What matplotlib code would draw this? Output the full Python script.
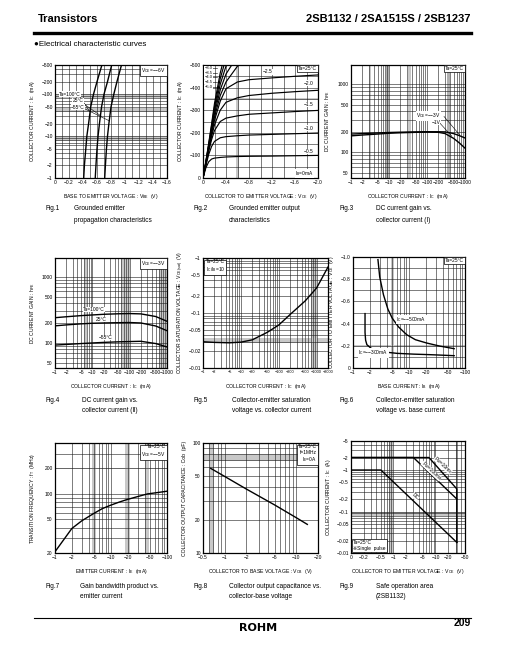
import numpy as np
import matplotlib
matplotlib.use("Agg")
import matplotlib.pyplot as plt
from matplotlib.ticker import FixedLocator, LogLocator, MultipleLocator, NullFormatter

W, H = 505, 649

plt.rcParams["font.family"] = ["Liberation Sans", "DejaVu Sans", "Noto Sans CJK JP"]
plt.rcParams["mathtext.fontset"] = "custom"
plt.rcParams["mathtext.rm"] = "Liberation Sans"
plt.rcParams["mathtext.it"] = "Liberation Sans"
plt.rcParams["axes.linewidth"] = 0.8

INK = "black"
GRID = "#1a1a1a"
BAND = "#c8c8c8"
MINUS = "\u2212"

# ---------------- data (magnitudes; the datasheet prints them negative) ----
# Fig.1  grounded emitter propagation: VBE (V) at given Ic (mA)
F1_IC = [1, 2, 5, 10, 20, 50, 100, 200, 500]
F1_VBE_100C = [0.41, 0.42, 0.44, 0.455, 0.48, 0.51, 0.55, 0.60, 0.67]
F1_VBE_25C = [0.575, 0.585, 0.60, 0.615, 0.635, 0.665, 0.70, 0.75, 0.81]
F1_VBE_M55C = [0.71, 0.72, 0.735, 0.75, 0.77, 0.80, 0.84, 0.885, 0.95]

# Fig.2  output characteristics: Ic (mA) vs VCE (V) for each IB (mA)
F2_VCE = [0, 0.05, 0.1, 0.15, 0.2, 0.3, 0.4, 0.6, 0.8, 1.2, 1.6, 2.0]
F2_IC_IB05 = [0, 45, 72, 84, 88, 91, 93, 95, 96, 97, 98.5, 100]
F2_IC_IB10 = [0, 55, 105, 140, 162, 178, 183, 187, 190, 193, 196, 199]
F2_IC_IB15 = [0, 60, 120, 170, 210, 250, 265, 275, 282, 288, 294, 299]
F2_IC_IB20 = [0, 62, 125, 185, 235, 300, 335, 355, 365, 375, 382, 388]
F2_IC_IB25 = [0, 64, 130, 195, 255, 340, 395, 425, 435, 443, 450, 456]
F2_IC_IB30 = [0, 66, 135, 205, 270, 365, 425, 495, 530, 560, 580, 600]
F2_IC_IB35 = [0, 68, 140, 215, 285, 390, 460, 540, 580, 610, 630, 650]
F2_IC_IB40 = [0, 70, 145, 222, 300, 415, 495, 585, 630, 660, 680, 700]
F2_IC_IB45 = [0, 72, 150, 232, 315, 440, 530, 630, 680, 710, 730, 750]
F2_IC_IB50 = [0, 74, 155, 240, 330, 465, 565, 670, 720, 750, 780, 800]

# Fig.3  hFE vs Ic (Ta=25C)
F3_IC = [1, 2, 5, 10, 20, 50, 100, 200, 300, 500, 700, 1000]
F3_HFE_3V = [185, 188, 192, 195, 197, 199, 200, 200, 199, 188, 176, 162]
F3_HFE_1V = [174, 179, 185, 190, 193, 196, 198, 196, 188, 160, 138, 115]

# Fig.4  hFE vs Ic (VCE=-3V)
F4_IC = [1, 2, 5, 10, 20, 50, 100, 200, 500, 1000]
F4_HFE_100C = [240, 248, 258, 264, 270, 275, 277, 274, 250, 212]
F4_HFE_25C = [181, 187, 194, 198, 200, 202, 203, 200, 180, 153]
F4_HFE_M55C = [93, 95, 98, 100, 102, 104, 105, 106, 98, 87]

# Fig.5  VCE(sat) (V) vs Ic (mA)
F5_IC = [1, 2, 5, 10, 20, 50, 100, 200, 500, 1000, 2000]
F5_VSAT = [0.030, 0.0292, 0.0287, 0.0295, 0.0325, 0.0446, 0.0604, 0.094, 0.166, 0.285, 0.685]

# Fig.6  VCE (V) vs IB (mA)
F6_IB_300 = [1.64, 1.64, 1.68, 1.77, 2.1, 2.7, 4.0, 6.1, 12, 24, 64]
F6_VCE_300 = [0.49, 0.32, 0.25, 0.21, 0.178, 0.156, 0.142, 0.132, 0.125, 0.12, 0.111]
F6_IB_500 = [2.79, 3.0, 3.5, 4.2, 5.0, 6.5, 9.1, 13, 20.7, 35, 64]
F6_VCE_500 = [0.976, 0.82, 0.66, 0.53, 0.45, 0.37, 0.30, 0.255, 0.225, 0.198, 0.174]

# Fig.7  fT (MHz) vs IE (mA)
F7_IE = [1, 2, 3, 4.9, 7, 9.8, 14, 19.5, 30, 44.8, 70, 100]
F7_FT = [20.7, 39, 48, 58.6, 67, 73.4, 80, 85.9, 93, 100, 104, 107.6]

# Fig.8  Cob (pF) vs VCB (V)
F8_VCB = [0.64, 1, 2, 5, 10, 14.2]
F8_COB = [58.8, 49.7, 38.2, 27.3, 20.9, 18.2]

# Fig.9  safe operating area: Ic (A) vs VCE (V)
F9_DC_V = [0.1, 0.51, 32]
F9_DC_I = [1.0, 1.0, 0.018]
F9_100MS_V = [0.1, 3.0, 32]
F9_100MS_I = [2.0, 2.0, 0.2]
F9_10MS_V = [0.1, 7.0, 32, 32]
F9_10MS_I = [2.0, 2.0, 0.35, 0.018]


# ---------------- helpers ----------------
def add_ax(l, t, r, b):
    return fig.add_axes([l / W, 1 - b / H, (r - l) / W, (b - t) / H])


def ftext(x, y, s, **kw):
    fig.text(x / W, 1 - y / H, s, **kw)


def neg(vals):
    return [MINUS + ("%g" % v) for v in vals]


def log_axis(axis, ticks, labels):
    axis.set_major_locator(FixedLocator(ticks))
    axis.set_minor_locator(LogLocator(base=10, subs=np.arange(2, 10), numticks=60))
    axis.set_minor_formatter(NullFormatter())
    axis.set_ticklabels(labels)


def style(ax, xlabel, ylabel, ylx=-0.16):
    ax.grid(True, which="both", color=GRID, lw=0.4)
    ax.set_axisbelow(True)
    ax.tick_params(which="both", length=0, labelsize=3.5, pad=1.6, colors=INK)
    ax.set_xlabel(xlabel, fontsize=3.7)
    ax.set_ylabel(ylabel, fontsize=3.7)
    ax.xaxis.set_label_coords(0.5, -0.125)
    ax.yaxis.set_label_coords(ylx, 0.5)
    for s in ax.spines.values():
        s.set_linewidth(0.9)


def box(ax, s, x=0.99, y=0.99, ha="right", va="top"):
    ax.text(x, y, s, transform=ax.transAxes, ha=ha, va=va, fontsize=3.5,
            linespacing=1.1, zorder=5,
            bbox=dict(boxstyle="square,pad=0.25", fc="white", ec=INK, lw=0.5))


WHITE = dict(fc="white", ec="none", pad=0.2)


def label(ax, x, y, s, **kw):
    kw.setdefault("fontsize", 3.5)
    ax.text(x, y, s, ha="center", va="center", zorder=5, **kw)


def caption(x, y, num, l1, l2, x2):
    ftext(x, y, f"Fig.{num}", fontsize=4.7, va="center")
    ftext(x2, y, l1, fontsize=4.7, va="center")
    ftext(x2, y + 11, l2, fontsize=4.7, va="center")


fig = plt.figure(figsize=(W / 100, H / 100), dpi=100)

# ---------------- header / footer ----------------
ftext(38, 19, "Transistors", fontsize=8, fontweight="bold", va="center")
ftext(471, 19, "2SB1132 / 2SA1515S / 2SB1237", fontsize=8, fontweight="bold",
      va="center", ha="right")
fig.add_artist(plt.Line2D([34 / W, 471 / W], [1 - 33 / H, 1 - 33 / H], color=INK, lw=2.4))
ftext(34, 45, "\u25cfElectrical characteristic curves", fontsize=5.8, va="center")
fig.add_artist(plt.Line2D([34 / W, 471 / W], [1 - 618 / H, 1 - 618 / H], color=INK, lw=0.8))
ftext(258, 628, "ROHM", fontsize=8, fontweight="heavy", va="center", ha="center",
      family="DejaVu Sans")
ftext(471, 623, "209", fontsize=7.5, fontweight="bold", va="center", ha="right")

# ---------------- Fig.1 ----------------
ax = add_ax(55, 65, 167, 178)
ax.set_yscale("log")
for lo, hi in [(7.5, 10.2), (80, 100), (38, 46)]:
    ax.axhspan(lo, hi, color=BAND, lw=0, zorder=0.2)
for v in (F1_VBE_100C, F1_VBE_25C, F1_VBE_M55C):
    ax.plot(v, F1_IC, color=INK, lw=1.0)
ax.set_xlim(0, 1.6)
ax.set_ylim(1, 500)
xt = [0, 0.2, 0.4, 0.6, 0.8, 1.0, 1.2, 1.4, 1.6]
ax.xaxis.set_major_locator(FixedLocator(xt))
ax.xaxis.set_minor_locator(MultipleLocator(0.1))
ax.set_xticklabels(["0"] + neg(xt[1:]))
yt = [1, 2, 5, 10, 20, 50, 100, 200, 500]
log_axis(ax.yaxis, yt, neg(yt))
style(ax, "BASE TO EMITTER VOLTAGE : V$_{BE}$  (V)", "COLLECTOR CURRENT : I$_C$  (mA)")
box(ax, "V$_{CE}$=\u2212\u22126V")
ax.text(0.06, 100, "Ta=100\u00b0C", fontsize=3.5, va="center", ha="left", zorder=5, bbox=WHITE)
ax.text(0.25, 70, "25\u00b0C", fontsize=3.5, va="center", ha="left", zorder=5, bbox=WHITE)
ax.text(0.23, 49, "\u221255\u00b0C", fontsize=3.5, va="center", ha="left", zorder=5, bbox=WHITE)
for (x0, y0), (x1, y1) in [((0.34, 95), (0.49, 40)), ((0.36, 68), (0.66, 30)),
                           ((0.38, 49), (0.78, 23))]:
    ax.plot([x0, x1], [y0, y1], color=INK, lw=0.4)

# ---------------- Fig.2 ----------------
ax = add_ax(203, 65, 318, 178)
ax.axvspan(0.57, 0.63, color=BAND, lw=0, zorder=0.2)
ax.axhspan(345, 356, color=BAND, lw=0, zorder=0.2)
for ic in (F2_IC_IB05, F2_IC_IB10, F2_IC_IB15, F2_IC_IB20, F2_IC_IB25,
           F2_IC_IB30, F2_IC_IB35, F2_IC_IB40, F2_IC_IB45, F2_IC_IB50):
    ax.plot(F2_VCE, ic, color=INK, lw=0.85)
ax.set_xlim(0, 2.0)
ax.set_ylim(0, 500)
xt = [0, 0.4, 0.8, 1.2, 1.6, 2.0]
ax.xaxis.set_major_locator(FixedLocator(xt))
ax.xaxis.set_minor_locator(MultipleLocator(0.2))
ax.set_xticklabels(["0"] + [MINUS + "%.1f" % v for v in xt[1:]])
yt = [0, 100, 200, 300, 400, 500]
ax.yaxis.set_major_locator(FixedLocator(yt))
ax.yaxis.set_minor_locator(MultipleLocator(50))
ax.set_yticklabels(["0"] + neg(yt[1:]))
style(ax, "COLLECTOR TO EMITTER VOLTAGE : V$_{CE}$  (V)", "COLLECTOR CURRENT : I$_C$  (mA)",
      ylx=-0.157)
box(ax, "Ta=25\u00b0C")
for s, y in [("\u22123.0", 485), ("\u22123.5", 466), ("\u22124.0", 447),
             ("\u22124.5", 425), ("\u22125.0", 403)]:
    ax.text(0.03, y, s, fontsize=3.0, va="center", ha="left", zorder=5, bbox=WHITE)
    ax.plot([0.16, 0.24], [y, y], color=INK, lw=0.4)
for s, x, y in [("\u22122.5", 1.13, 470), ("\u22122.0", 1.83, 420), ("\u22121.5", 1.83, 325),
                ("\u22121.0", 1.83, 220), ("\u22120.5", 1.83, 118)]:
    label(ax, x, y, s, bbox=WHITE)
label(ax, 1.76, 20, "I$_B$=0mA", bbox=WHITE)

# ---------------- Fig.3 ----------------
ax = add_ax(351, 65, 465, 178)
ax.set_xscale("log")
ax.set_yscale("log")
for lo, hi, c in [(2.9, 3.3, BAND), (8.2, 10, "#b0b0b0"), (32, 38, BAND), (340, 400, "#b0b0b0")]:
    ax.axvspan(lo, hi, color=c, lw=0, zorder=0.2)
ax.plot(F3_IC, F3_HFE_3V, color=INK, lw=1.0)
ax.plot(F3_IC, F3_HFE_1V, color=INK, lw=1.0)
ax.set_xlim(1, 1000)
ax.set_ylim(42, 1900)
xt = [1, 2, 5, 10, 20, 50, 100, 200, 500, 1000]
log_axis(ax.xaxis, xt, neg(xt))
yt = [50, 100, 200, 500, 1000]
log_axis(ax.yaxis, yt, ["%g" % v for v in yt])
style(ax, "COLLECTOR CURRENT : I$_C$  (mA)", "DC CURRENT GAIN : h$_{FE}$", ylx=-0.167)
box(ax, "Ta=25\u00b0C")
label(ax, 110, 340, "V$_{CE}$=\u2212\u22123V", bbox=WHITE)
label(ax, 170, 272, "\u22121V", bbox=WHITE)
ax.plot([280, 720], [335, 180], color=INK, lw=0.4)
ax.plot([215, 450], [270, 172], color=INK, lw=0.4)

# ---------------- Fig.4 ----------------
ax = add_ax(55, 258, 167, 368)
ax.set_xscale("log")
ax.set_yscale("log")
for lo, hi in [(5.8, 7.2), (60, 100), (600, 1000)]:
    ax.axvspan(lo, hi, color=BAND, lw=0, zorder=0.2)
for h in (F4_HFE_100C, F4_HFE_25C, F4_HFE_M55C):
    ax.plot(F4_IC, h, color=INK, lw=1.0)
ax.set_xlim(1, 1000)
ax.set_ylim(42, 1900)
log_axis(ax.xaxis, xt, neg(xt))
log_axis(ax.yaxis, yt, ["%g" % v for v in yt])
style(ax, "COLLECTOR CURRENT : I$_C$  (mA)", "DC CURRENT GAIN : h$_{FE}$")
box(ax, "V$_{CE}$=\u2212\u22123V")
label(ax, 11, 318, "Ta=100\u00b0C", bbox=WHITE)
label(ax, 17, 224, "25\u00b0C", bbox=WHITE)
label(ax, 23, 120, "\u221255\u00b0C", bbox=WHITE)

# ---------------- Fig.5 ----------------
ax = add_ax(203, 258, 328, 368)
ax.set_xscale("log")
ax.set_yscale("log")
ax.axhspan(0.029, 0.035, color=BAND, lw=0, zorder=0.2)
ax.axvspan(700, 1000, color=BAND, lw=0, zorder=0.2)
ax.plot(F5_IC, F5_VSAT, color=INK, lw=1.0)
ax.set_xlim(1, 2000)
ax.set_ylim(0.01, 1)
xt5 = [1, 2, 5, 10, 20, 50, 100, 200, 500, 1000, 2000]
log_axis(ax.xaxis, xt5, neg(xt5))
yt5 = [0.01, 0.02, 0.05, 0.1, 0.2, 0.5, 1]
log_axis(ax.yaxis, yt5, neg(yt5))
style(ax, "COLLECTOR CURRENT : I$_C$  (mA)",
      "COLLECTOR SATURATION VOLTAGE : V$_{CE(sat)}$  (V)", ylx=-0.135)
ax.tick_params(axis="x", labelsize=2.8)
box(ax, "Ta=25\u00b0C\nI$_C$/I$_B$=10", x=0.02, ha="left")

# ---------------- Fig.6 ----------------
ax = add_ax(353, 257, 465, 368)
ax.set_xscale("log")
ax.axvspan(4.8, 5.4, color=BAND, lw=0, zorder=0.2)
ax.axhspan(0.19, 0.21, color=BAND, lw=0, zorder=0.2)
ax.plot(F6_IB_300, F6_VCE_300, color=INK, lw=1.0)
ax.plot(F6_IB_500, F6_VCE_500, color=INK, lw=1.0)
ax.set_xlim(1, 100)
ax.set_ylim(0, 1.0)
xt6 = [1, 2, 5, 10, 20, 50, 100]
log_axis(ax.xaxis, xt6, neg(xt6))
yt6 = [0, 0.2, 0.4, 0.6, 0.8, 1.0]
ax.yaxis.set_major_locator(FixedLocator(yt6))
ax.yaxis.set_minor_locator(MultipleLocator(0.1))
ax.set_yticklabels(["0"] + [MINUS + "%.1f" % v for v in yt6[1:]])
style(ax, "BASE CURRENT : I$_B$  (mA)", "COLLECTOR TO EMITTER VOLTAGE : V$_{CE}$  (V)",
      ylx=-0.15)
box(ax, "Ta=25\u00b0C")
label(ax, 11, 0.435, "I$_C$=\u2212\u2212500mA", bbox=WHITE)
label(ax, 2.3, 0.135, "I$_C$=\u2212\u2212300mA", bbox=WHITE)

# ---------------- Fig.7 ----------------
ax = add_ax(55, 443, 167, 553)
ax.set_xscale("log")
ax.set_yscale("log")
for lo, hi in [(4.6, 5.4), (18, 22), (40, 47)]:
    ax.axvspan(lo, hi, color=BAND, lw=0, zorder=0.2)
ax.axhspan(195, 205, color=BAND, lw=0, zorder=0.2)
ax.plot(F7_IE, F7_FT, color=INK, lw=1.0)
ax.set_xlim(1, 100)
ax.set_ylim(20, 400)
log_axis(ax.xaxis, xt6, neg(xt6))
yt7 = [20, 50, 100, 200]
log_axis(ax.yaxis, yt7, ["%g" % v for v in yt7])
style(ax, "EMITTER CURRENT : I$_E$  (mA)", "TRANSITION FREQUENCY : f$_T$  (MHz)")
box(ax, "Ta=25\u00b0C\nV$_{CE}$=\u2212\u22125V")

# ---------------- Fig.8 ----------------
ax = add_ax(203, 443, 318, 553)
ax.set_xscale("log")
ax.set_yscale("log")
ax.axvspan(0.6, 0.72, color=BAND, lw=0, zorder=0.2)
ax.axhspan(68, 80, color=BAND, lw=0, zorder=0.2)
ax.plot(F8_VCB, F8_COB, color=INK, lw=1.0)
ax.set_xlim(0.5, 20)
ax.set_ylim(10, 100)
xt8 = [0.5, 1, 2, 5, 10, 20]
log_axis(ax.xaxis, xt8, neg(xt8))
yt8 = [10, 20, 50, 100]
log_axis(ax.yaxis, yt8, ["%g" % v for v in yt8])
style(ax, "COLLECTOR TO BASE VOLTAGE : V$_{CB}$  (V)",
      "COLLECTOR OUTPUT CAPACITANCE : Cob  (pF)", ylx=-0.14)
box(ax, "Ta=25\u00b0C\nf=1MHz\nI$_E$=0A")

# ---------------- Fig.9 ----------------
ax = add_ax(351, 441, 465, 553)
ax.set_xscale("log")
ax.set_yscale("log")
ax.axvspan(0.8, 1.0, color=BAND, lw=0, zorder=0.2)
ax.axhspan(0.08, 0.1, color=BAND, lw=0, zorder=0.2)
ax.axvspan(30, 34, color="#909090", lw=0, zorder=0.2)
ax.plot(F9_DC_V, F9_DC_I, color=INK, lw=1.0)
ax.plot(F9_100MS_V, F9_100MS_I, color=INK, lw=1.0)
ax.plot(F9_10MS_V, F9_10MS_I, color=INK, lw=1.0)
ax.set_xlim(0.1, 50)
ax.set_ylim(0.01, 5)
xt9 = [0.1, 0.2, 0.5, 1, 2, 5, 10, 20, 50]
log_axis(ax.xaxis, xt9, ["0"] + neg(xt9[1:]))
yt9 = [0.01, 0.02, 0.05, 0.1, 0.2, 0.5, 1, 2, 5]
log_axis(ax.yaxis, yt9, neg(yt9))
style(ax, "COLLECTOR TO EMITTER VOLTAGE : V$_{CE}$  (V)", "COLLECTOR CURRENT : I$_C$  (A)",
      ylx=-0.16)
box(ax, "Ta=25\u00b0C\n\u203bSingle  pulse", x=0.02, y=0.02, ha="left", va="bottom")
label(ax, 3.3, 0.23, "DC", rotation=-43, bbox=WHITE)
label(ax, 8, 0.95, "Pw=100ms", rotation=-43, bbox=WHITE)
label(ax, 15, 1.3, "Pw=10ms", rotation=-43, bbox=WHITE)

# ---------------- captions ----------------
caption(46, 209, 1, "Grounded emitter", "propagation characteristics", 74)
caption(193, 209, 2, "Grounded emitter output", "characteristics", 229)
caption(340, 209, 3, "DC current gain vs.", "collector current (\u2160)", 376)
caption(46, 400, 4, "DC current gain vs.", "collector current (\u2161)", 82)
caption(193, 400, 5, "Collector-emitter saturation", "voltage vs. collector current", 232)
caption(340, 400, 6, "Collector-emitter saturation", "voltage vs. base current", 376)
caption(46, 586, 7, "Gain bandwidth product vs.", "emitter current", 80)
caption(193, 586, 8, "Collector output capacitance vs.", "collector-base voltage", 229)
caption(340, 586, 9, "Safe operation area", "(2SB1132)", 376)

fig.savefig("out.png", dpi=100, facecolor="white")
